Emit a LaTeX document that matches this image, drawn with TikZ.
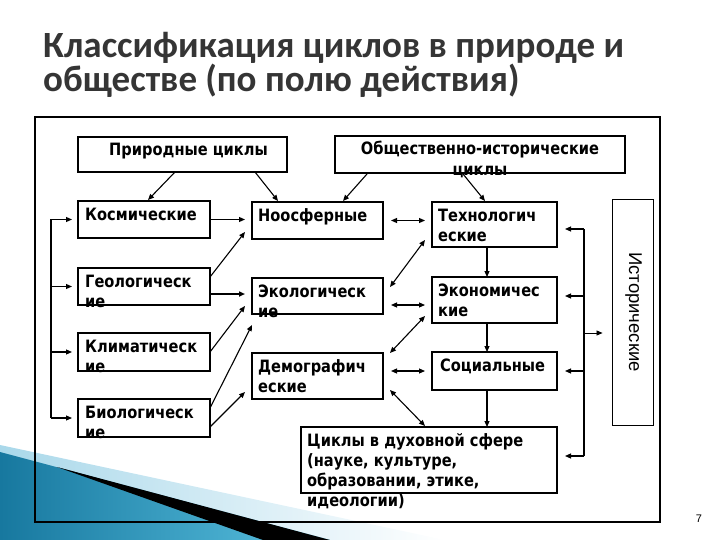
\documentclass[tikz,border=0pt]{standalone}
\usepackage{fontspec}
\setmainfont{Liberation Sans}
\newfontfamily\titlefont{Carlito}
\newfontfamily\boxfont[FakeStretch=0.86]{DejaVu Sans}
\usetikzlibrary{arrows.meta,calc,fit}
\definecolor{titlegray}{HTML}{353535}
\definecolor{tealdark}{HTML}{17789F}
\definecolor{teallight}{HTML}{5CC3E2}
\definecolor{palebl}{HTML}{A9D8EA}
\newcommand{\fl}{\rule{0pt}{13.5pt}}
\begin{document}
\begin{tikzpicture}[x=1pt,y=-1pt,
  bx/.style={draw, line width=1.2pt, inner sep=0pt, outer sep=0pt},
  topbx/.style={draw, line width=2.3pt, inner sep=0pt, outer sep=0pt},
  txt/.style={inner sep=0pt, align=left, font=\boxfont\fontsize{17}{20}\bfseries\selectfont},
  ctxt/.style={inner sep=0pt, align=center, font=\boxfont\fontsize{17}{21}\bfseries\selectfont},
  tip/.tip={Triangle[length=6pt,width=5pt]},
  arr/.style={-tip, line width=1.1pt},
  darr/.style={tip-tip, line width=1.1pt},
  ln/.style={line width=1.1pt}
]
\useasboundingbox (0,0) rectangle (720,540);
% decoration bottom-left
\shade[left color=palebl, right color=white] (0,445) -- (445,540) -- (0,540) -- cycle;
\shade[left color=tealdark, right color=teallight] (0,452) -- (330,540) -- (0,540) -- cycle;
\fill[black] (57,467) -- (330,540) -- (263,540) -- cycle;

% title
\node[anchor=north west, inner sep=0pt, align=left, text=titlegray,
  font=\titlefont\fontsize{37}{30}\bfseries\selectfont] (title) at (43,27)
  {\rule{0pt}{30pt}Классификация циклов в природе и\\обществе (по полю действия)};

% frame
\node[draw, line width=1.3pt, inner sep=0pt, fit={(35,117) (660,522)}] (frame) {};

% boxes
\node[topbx, fit={(78,137) (287,172)}] (pri) {};
\node[topbx, fit={(335,136) (625,173)}] (obs) {};
\node[bx, fit={(78,201) (210,238)}] (kos) {};
\node[bx, fit={(78,268) (210,305)}] (geo) {};
\node[bx, fit={(78,333) (210,371)}] (kli) {};
\node[bx, fit={(78,399) (210,437)}] (bio) {};
\node[bx, fit={(252,202) (383,239)}] (noo) {};
\node[bx, fit={(252,278) (383,314)}] (eco) {};
\node[bx, fit={(252,353) (383,399)}] (dem) {};
\node[bx, fit={(432,202) (557,247)}] (tech) {};
\node[bx, fit={(432,277) (557,323)}] (econ) {};
\node[bx, fit={(432,352) (557,390)}] (soc) {};
\node[bx, fit={(301,427) (557,493)}] (spir) {};
\node[draw, line width=0.9pt, inner sep=0pt, fit={(612,199) (653,425)}] (ist) {};

% texts
\node[ctxt, anchor=north] (prit) at ($(pri.north)+(6,5)$) {\fl Природные циклы};
\node[ctxt, anchor=north] (obst) at ($(obs.north)+(0,5)$) {\fl Общественно-исторические\\циклы};
\node[txt, anchor=north west] (kost) at ($(kos.north west)+(7,6)$) {\fl Космические};
\node[txt, anchor=north west] (geot) at ($(geo.north west)+(7,6)$) {\fl Геологическ\\ие};
\node[txt, anchor=north west] (klit) at ($(kli.north west)+(7,6)$) {\fl Климатическ\\ие};
\node[txt, anchor=north west] (biot) at ($(bio.north west)+(7,6)$) {\fl Биологическ\\ие};
\node[txt, anchor=north west] (noot) at ($(noo.north west)+(6,6)$) {\fl Ноосферные};
\node[txt, anchor=north west] (ecot) at ($(eco.north west)+(6,6)$) {\fl Экологическ\\ие};
\node[txt, anchor=north west] (demt) at ($(dem.north west)+(6,6)$) {\fl Демографич\\еские};
\node[txt, anchor=north west] (techt) at ($(tech.north west)+(6,6)$) {\fl Технологич\\еские};
\node[txt, anchor=north west] (econt) at ($(econ.north west)+(6,6)$) {\fl Экономичес\\кие};
\node[txt, anchor=north west] (soct) at ($(soc.north west)+(8,6)$) {\fl Социальные};
\node[txt, anchor=north west] (spirt) at ($(spir.north west)+(6,5.5)$) {\fl Циклы в духовной сфере\\(науке, культуре,\\образовании, этике,\\идеологии)};
\node[inner sep=0pt, rotate=-90, font=\fontsize{18.5}{20}\selectfont] (istt) at ($(ist.center)+(1,0)$) {Исторические};
\node[inner sep=0pt, font=\fontsize{11}{13}\selectfont] (pg) at (699,519) {7};

% top arrows
\draw[arr] ($(pri.south west)+(97,0)$) -- ($(kos.north west)+(70,-1)$);
\draw[arr] ($(pri.south west)+(177,0)$) -- ($(noo.north west)+(26,-1)$);
\draw[arr] ($(obs.south west)+(32,1)$) -- ($(noo.north west)+(91,-1)$);
\draw[arr] ($(obs.south west)+(128,1)$) -- ($(tech.north west)+(53,-1)$);

% left column to middle column
\draw[arr] ($(kos.east)+(1,0)$) -- ($(kos.east -| noo.west)+(-7,0)$);
\draw[arr] ($(geo.north east)+(0,9)$) -- ($(noo.south west)+(-7,-7)$);
\draw[arr, line width=2pt] ($(geo.south east)+(1,-11)$) -- ($(eco.west)+(-7,-2)$);
\draw[arr] (kli.east) -- ($(eco.south west)+(-7,-8)$);
\draw[arr] ($(bio.north east)+(0,9)$) -- ($(eco.south west)+(0,11)$);
\draw[arr] ($(bio.south east)+(0,-10)$) -- ($(dem.south west)+(-7,-7)$);

% middle column to right column
\draw[darr] ($(noo.east)+(8,0)$) -- ($(noo.east -| tech.west)+(-7,0)$);
\draw[darr] ($(eco.north east)+(7,9)$) -- ($(tech.south west)+(-7,-7)$);
\draw[darr] ($(eco.south east)+(8,-9)$) -- ($(eco.south east -| econ.west)+(-7,-9)$);
\draw[darr] ($(dem.north east)+(7,0)$) -- ($(econ.south west)+(-7,-7)$);
\draw[darr] ($(soc.west -| dem.east)+(8,0)$) -- ($(soc.west)+(-7,0)$);
\draw[darr] ($(dem.south east)+(7,-9)$) -- ($(spir.north west)+(124,-1)$);

% right column chain
\draw[arr] ($(tech.south west)+(55,0)$) -- ($(econ.north west)+(55,0)$);
\draw[arr] ($(econ.south west)+(55,0)$) -- ($(soc.north west)+(55,0)$);
\draw[arr] ($(soc.south west)+(55,0)$) -- ($(spir.north west)+(186,0)$);

% right bus
\coordinate (rt) at ($(tech.north east)+(27,27)$);
\coordinate (rb) at ($(spir.north east)+(27,29)$);
\coordinate (rm) at ($(ist.west)+(-28,21)$);
\draw[ln] (rt) -- (rb);
\draw[arr] (rt) -- ($(rt -| tech.east)+(8,0)$);
\draw[arr] ($(econ.east)+(27,-4)$) -- ($(econ.east)+(8,-4)$);
\draw[arr] ($(soc.east)+(27,0)$) -- ($(soc.east)+(8,0)$);
\draw[arr] (rb) -- ($(rb -| spir.east)+(8,0)$);
\draw[arr, line width=0.8pt] (rm) -- ($(ist.west)+(-9,21)$);

% left bus
\coordinate (lt) at ($(kos.west)+(-27,0)$);
\coordinate (lb) at ($(bio.west)+(-27,0)$);
\draw[ln] (lt) -- (lb);
\draw[arr] (lt) -- ($(kos.west)+(-6,0)$);
\draw[arr] ($(geo.west)+(-27,0)$) -- ($(geo.west)+(-6,0)$);
\draw[arr] ($(kli.west)+(-27,0)$) -- ($(kli.west)+(-6,0)$);
\draw[arr] (lb) -- ($(bio.west)+(-6,0)$);
\end{tikzpicture}
\end{document}
